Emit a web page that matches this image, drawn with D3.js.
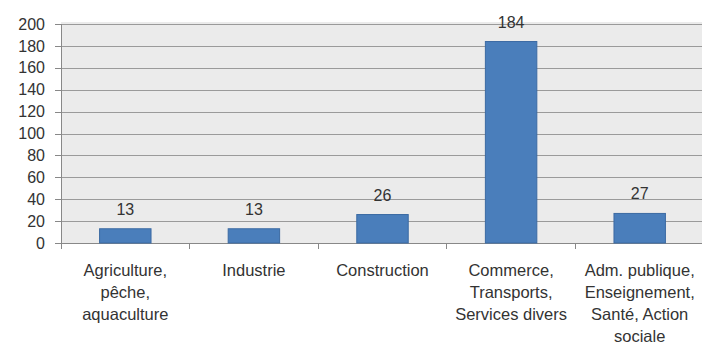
<!DOCTYPE html>
<html>
<head>
  <meta charset="utf-8">
  <title>chart</title>
  <style>
    body { margin: 0; background: #fff; }
    .axis text { font-family: "Liberation Sans", sans-serif; font-size: 16px; fill: #333; }
    .axis path, .axis line { stroke: #888; shape-rendering: crispEdges; }
    .grid line { stroke: #9a9a9a; shape-rendering: crispEdges; }
    .grid path { display: none; }
    .val { font-family: "Liberation Sans", sans-serif; font-size: 16px; fill: #333; text-anchor: middle; }
    .cat { font-family: "Liberation Sans", sans-serif; font-size: 16.5px; fill: #333; text-anchor: middle; }
  </style>
</head>
<body>
<script src="https://d3js.org/d3.v7.min.js"></script>
<script>
  var categories = [
    ['Agriculture,', 'pêche,', 'aquaculture'],
    ['Industrie'],
    ['Construction'],
    ['Commerce,', 'Transports,', 'Services divers'],
    ['Adm. publique,', 'Enseignement,', 'Santé, Action', 'sociale']
  ];
  var values = [13, 13, 26, 184, 27];
  var yTicks = [0, 20, 40, 60, 80, 100, 120, 140, 160, 180, 200];

  var width = 702, height = 349;
  var padding = {left: 61, right: -2, top: 24, bottom: 106};
  var innerW = width - padding.left - padding.right;
  var innerH = height - padding.top - padding.bottom;

  var svg = d3.select('body').append('svg')
    .attr('width', width)
    .attr('height', height);

  var g = svg.append('g')
    .attr('transform', 'translate(' + padding.left + ',' + padding.top + ')');

  var xScale = d3.scaleBand()
    .domain(d3.range(values.length))
    .range([0, innerW])
    .paddingInner(0.6)
    .paddingOuter(0.3);

  var yScale = d3.scaleLinear()
    .domain([0, 200])
    .range([innerH, 0]);

  // plot background
  g.append('rect')
    .attr('x', 0)
    .attr('y', -2)
    .attr('width', innerW)
    .attr('height', innerH + 2)
    .attr('fill', '#ebebeb');

  // gridlines
  g.append('g')
    .attr('class', 'grid')
    .call(d3.axisLeft(yScale).tickValues(yTicks).tickSize(-innerW).tickFormat(''));

  // y axis
  var yAxisG = g.append('g')
    .attr('class', 'axis')
    .call(d3.axisLeft(yScale).tickValues(yTicks).tickSize(6).tickPadding(10));
  yAxisG.select('.domain').attr('d', 'M0,' + innerH + 'V0');

  // x axis with category boundary ticks
  var step = xScale.step();
  var bounds = d3.range(values.length + 1).map(function(i) {
    return xScale(0) - xScale.paddingOuter() * step + i * step;
  });
  var xAxisG = g.append('g')
    .attr('class', 'axis')
    .attr('transform', 'translate(0,' + innerH + ')');
  xAxisG.append('line')
    .attr('x1', 0).attr('x2', innerW)
    .attr('y1', 0).attr('y2', 0);
  xAxisG.selectAll('.btick')
    .data(bounds)
    .enter()
    .append('line')
    .attr('class', 'btick')
    .attr('x1', function(d) { return d; })
    .attr('x2', function(d) { return d; })
    .attr('y1', 0)
    .attr('y2', 6);

  // bars
  g.selectAll('.bar')
    .data(values)
    .enter()
    .append('rect')
    .attr('class', 'bar')
    .attr('x', function(d, i) { return xScale(i); })
    .attr('y', function(d) { return yScale(d); })
    .attr('width', xScale.bandwidth())
    .attr('height', function(d) { return innerH - yScale(d); })
    .attr('fill', '#4a7ebb')
    .attr('stroke', '#3b6aa3')
    .attr('stroke-width', 1);

  // value labels
  g.selectAll('.val')
    .data(values)
    .enter()
    .append('text')
    .attr('class', 'val')
    .attr('x', function(d, i) { return xScale(i) + xScale.bandwidth() / 2; })
    .attr('y', function(d) { return yScale(d) - 14; })
    .text(function(d) { return d; });

  // category labels
  var catG = g.selectAll('.cat')
    .data(categories)
    .enter()
    .append('text')
    .attr('class', 'cat')
    .attr('x', function(d, i) { return xScale(i) + xScale.bandwidth() / 2; })
    .attr('y', innerH + 33);
  catG.selectAll('tspan')
    .data(function(d) { return d; })
    .enter()
    .append('tspan')
    .attr('x', function() { return d3.select(this.parentNode).attr('x'); })
    .attr('dy', function(d, i) { return i === 0 ? 0 : 22; })
    .text(function(d) { return d; });
</script>
</body>
</html>
